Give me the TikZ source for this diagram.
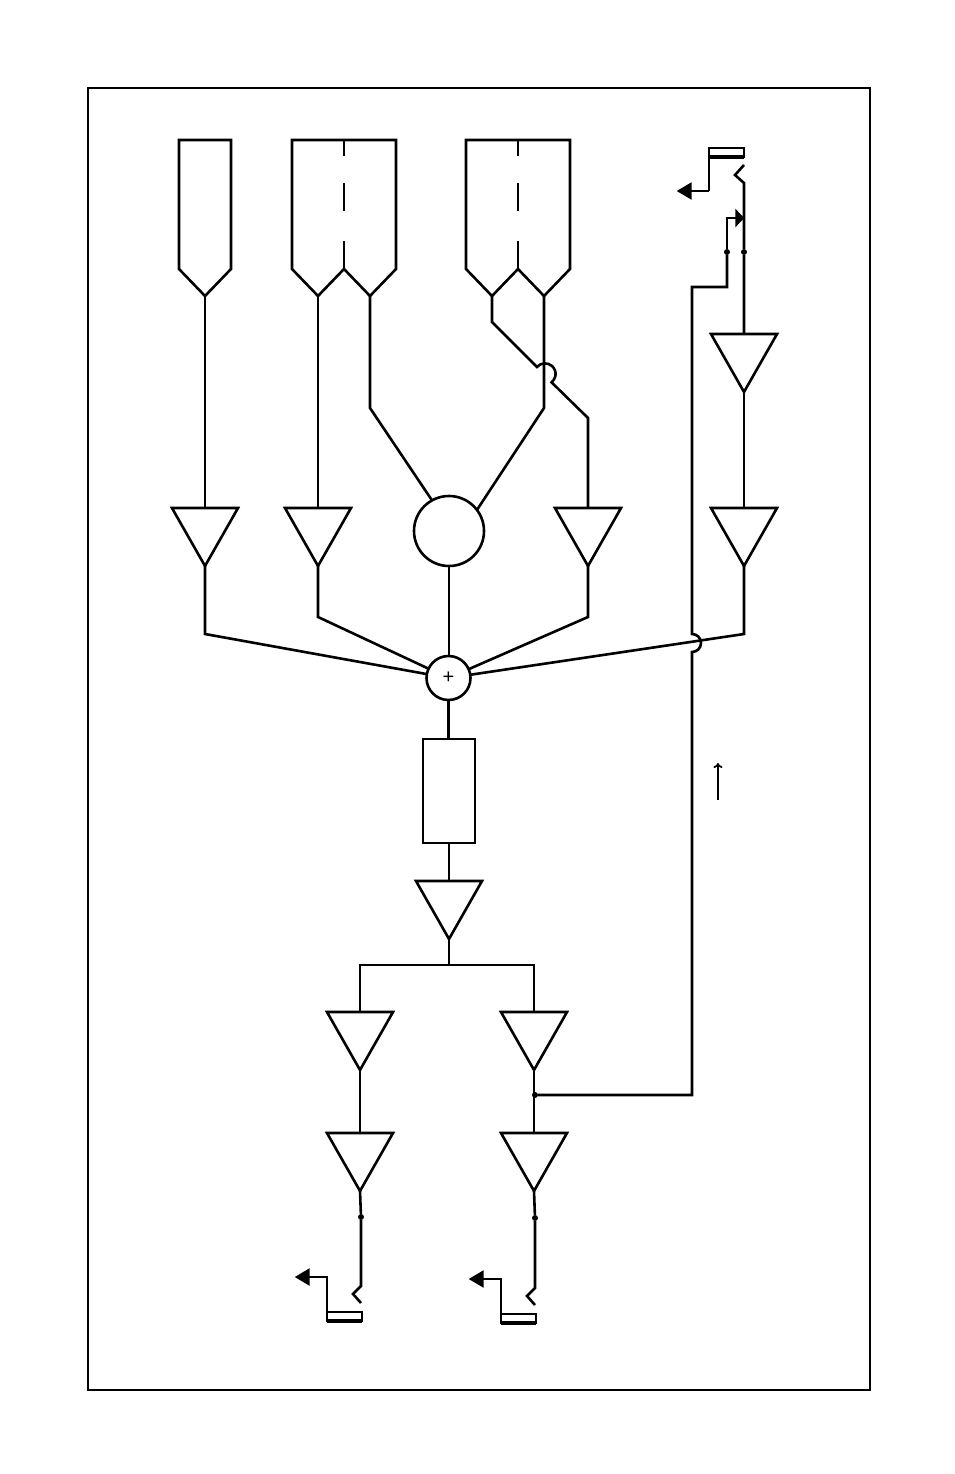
\documentclass[tikz,border=0pt]{standalone}
\usepackage{fontspec}
\setmainfont{Liberation Sans}
\usetikzlibrary{shapes.geometric,arrows.meta}
\tikzset{
  wire/.style={line width=2.6pt,line join=miter,line cap=butt},
  thinframe/.style={line width=1.7pt},
  amp/.style={draw,line width=2.6pt,shape=isosceles triangle,shape border rotate=270,
    isosceles triangle stretches=true,minimum width=66pt,minimum height=58pt,
    inner sep=0pt,outer sep=0pt,anchor=apex},
  rnd/.style={draw,line width=2.6pt,circle,inner sep=0pt,outer sep=0pt},
  dotmark/.style={fill,circle,inner sep=0pt,minimum size=6pt},
  bighead/.style={-{Triangle[length=15pt,width=17pt]}},
  shorthead/.style={-{Triangle[length=9pt,width=18pt]}},
  jackplate/.style={draw,line width=2.4pt,rectangle,inner sep=0pt,outer sep=0pt,minimum width=35pt,minimum height=9pt}
}
\begin{document}
\begin{tikzpicture}[x=1pt,y=-1pt]
\useasboundingbox (0,0) rectangle (954,1474);
\draw[thinframe] (88,88) rectangle (870,1390);

% channel strip inputs
\draw[wire] (179,140) -- (231,140) -- (231,269) -- (205,296) -- (179,269) -- cycle;
\draw[wire] (292,140) -- (396,140) -- (396,269) -- (370,296) -- (344,269) -- (318,296) -- (292,269) -- cycle;
\draw[wire] (466,140) -- (570,140) -- (570,269) -- (544,296) -- (518,269) -- (492,296) -- (466,269) -- cycle;
\draw[wire] (344,140) -- (344,156) (344,183) -- (344,211) (344,241) -- (344,269);
\draw[wire] (518,140) -- (518,156) (518,183) -- (518,211) (518,241) -- (518,269);
\coordinate (inA) at (205,296);
\coordinate (inBl) at (318,296);
\coordinate (inBr) at (370,296);
\coordinate (inCl) at (492,296);
\coordinate (inCr) at (544,296);

% amplifiers
\node[amp] (a1) at (205,566) {};
\node[amp] (a2) at (318,566) {};
\node[amp] (a3) at (588,566) {};
\node[amp] (a4) at (744,566) {};
\node[amp] (a5) at (744,392) {};
\node[amp] (a6) at (449,939) {};
\node[amp] (a7) at (360,1070) {};
\node[amp] (a8) at (534,1070) {};
\node[amp] (a9) at (360,1191) {};
\node[amp] (a10) at (534,1191) {};

% mixer and output block
\node[rnd,minimum size=70pt] (mix) at (449,531) {};
\node[rnd,minimum size=44pt,font=\fontsize{20}{20}\selectfont] (sum) at (448.5,678) {+};
\node[draw,line width=2.6pt,rectangle,inner sep=0pt,outer sep=0pt,minimum width=52pt,minimum height=104pt] (gain) at (449,791) {};

% upper wiring
\draw[wire] (inA) -- (a1.lower side);
\draw[wire] (inBl) -- (a2.lower side);
\draw[wire] (inBr) -- (370,408) -- (mix.119);
\draw[wire] (inCr) -- (544,408) -- (mix.37);
\draw[wire] (inCl) -- (492,322) -- (537,367) arc[start angle=221,end angle=412,radius=10.6] -- (588,418) -- (a3.lower side);

% wiring into the summing junction
\coordinate (k1) at (205,634);
\coordinate (k2) at (318,617);
\coordinate (k3) at (588,617);
\coordinate (k4) at (744,634);
\draw[wire] (a1.apex) -- (k1) -- (sum);
\draw[wire] (a2.apex) -- (k2) -- (sum);
\draw[wire] (mix.south) -- (mix.south |- sum.north);
\draw[wire] (a3.apex) -- (k3) -- (sum);
\draw[wire] (a4.apex) -- (k4) -- (sum);
\draw[wire] (a5.apex) -- (a4.lower side);

% output chain
\draw[wire] (sum.south) -- (sum.south |- gain.north);
\draw[wire] (gain.south) -- (a6.lower side);
\coordinate (split) at (449,965);
\coordinate (splitL) at (360,965);
\coordinate (splitR) at (534,965);
\draw[wire] (a6.apex) -- (split);
\draw[wire] (a7.lower side) -- (splitL) -- (splitR) -- (a8.lower side);
\draw[wire] (a7.apex) -- (a9.lower side);
\draw[wire] (a8.apex) -- (a10.lower side);

% feedback path with its hop over the mix wire
\node[dotmark] (tapB) at (535,1095) {};
\node[dotmark] (tapT) at (727,252) {};
\node[dotmark] (tapS) at (744,252) {};
\coordinate (f1) at (692,1095);
\coordinate (hopB) at (692,652);
\coordinate (f2) at (692,287);
\coordinate (f3) at (727,287);
\draw[wire] (tapB) -- (f1) -- (hopB) arc[start angle=90,end angle=-90,radius=9] -- (f2) -- (f3) -- (tapT);

% top right jack
\node[jackplate] (jackT) at (726.5,152.5) {};
\coordinate (jT1) at (744,165);
\coordinate (jT2) at (735,175);
\coordinate (jT3) at (744,183);
\coordinate (retT) at (709,191);
\node[inner sep=0pt] (retTend) at (676,191) {};
\draw[wire] (jT1) -- (jT2) -- (jT3) -- (tapS) -- (a5.lower side);
\draw[wire] (jackT.south west) -- (retT);
\draw[wire,bighead] (retT) -- (retTend);
\draw[line width=3.4pt] (jackT.south west) -- (jackT.south east);
\coordinate (sendK) at (727,218);
\node[inner sep=0pt] (sendEnd) at (745,218) {};
\draw[wire,shorthead] (tapT) -- (sendK) -- (sendEnd);

% left output jack
\node[dotmark] (tapL) at (361,1217) {};
\node[jackplate] (jackL) at (344.5,1316.5) {};
\coordinate (jL1) at (361,1286);
\coordinate (jL2) at (353,1294);
\coordinate (jL3) at (361,1303);
\coordinate (retL) at (327,1277);
\node[inner sep=0pt] (retLend) at (294,1277) {};
\draw[wire] (a9.apex) -- (tapL) -- (jL1) -- (jL2) -- (jL3);
\draw[wire,bighead] (jackL.north west) -- (retL) -- (retLend);
\draw[line width=3.4pt] (jackL.south west) -- (jackL.south east);

% right output jack
\node[dotmark] (tapR) at (535,1218) {};
\node[jackplate] (jackR) at (518.5,1318.5) {};
\coordinate (jR1) at (535,1288);
\coordinate (jR2) at (527,1296);
\coordinate (jR3) at (535,1305);
\coordinate (retR) at (501,1279);
\node[inner sep=0pt] (retRend) at (468,1279) {};
\draw[wire] (a10.apex) -- (tapR) -- (jR1) -- (jR2) -- (jR3);
\draw[wire,bighead] (jackR.north west) -- (retR) -- (retRend);
\draw[line width=3.4pt] (jackR.south west) -- (jackR.south east);

% signal direction marker
\coordinate (dirA) at (718,800);
\coordinate (dirB) at (718,763);
\draw[line width=1.7pt,-{To[length=5pt,width=9pt]}] (dirA) -- (dirB);
\end{tikzpicture}
\end{document}
